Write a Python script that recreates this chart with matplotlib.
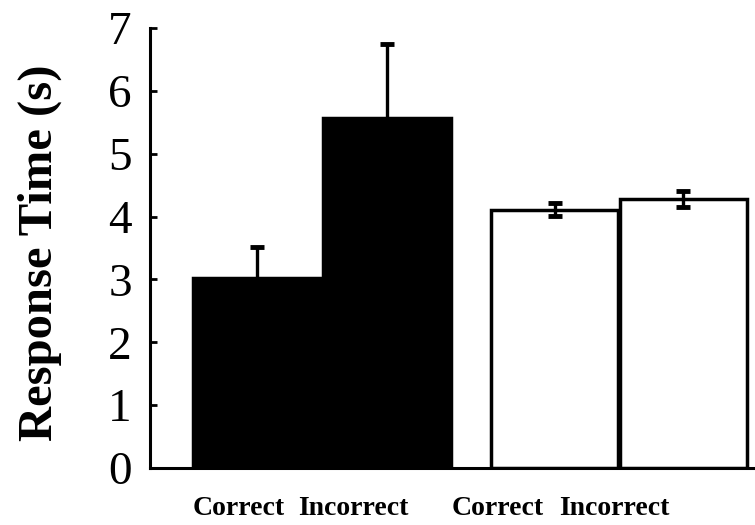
import matplotlib
matplotlib.use('Agg')
import numpy as np
import matplotlib.pyplot as plt

# data
conditions = ['Correct', 'Incorrect', 'Correct', 'Incorrect']
means = [3.03, 5.57, 4.11, 4.28]
errors = [0.48, 1.18, 0.10, 0.12]
fills = ['black', 'black', 'white', 'white']
yticks = [0, 1, 2, 3, 4, 5, 6, 7]

# layout
bar_x = np.array([0.0, 1.0, 2.29, 3.28])
label_x = np.array([-0.14, 0.74, 1.85, 2.75])

plt.rcParams['font.family'] = ['Liberation Serif', 'DejaVu Serif']

fig = plt.figure(figsize=(7.55, 5.25), dpi=100)
ax = fig.add_axes([150 / 755, 57 / 525, 605 / 755, 440 / 525])

ax.bar(bar_x, means, width=0.98, color=fills, edgecolor='black',
       linewidth=2.5, zorder=2)
ax.errorbar(bar_x, means, yerr=errors, fmt='none', ecolor='black',
            elinewidth=2.4, capsize=5, capthick=3.5, zorder=3)

ax.set_xlim(-0.82, 3.83)
ax.set_ylim(0, 7)
ax.set_yticks(yticks)
ax.set_yticklabels([str(t) for t in yticks], fontsize=34)
ax.set_xticks(label_x)
ax.set_xticklabels(conditions, fontsize=20, fontweight='bold')
ax.tick_params(axis='x', length=0, pad=20)
ax.tick_params(axis='y', direction='in', length=5, width=2, pad=13)

for side in ['top', 'right']:
    ax.spines[side].set_visible(False)
for side in ['left', 'bottom']:
    ax.spines[side].set_linewidth(2.2)

ax.set_ylabel('Response Time (s)', fontsize=35, fontweight='bold')
ax.yaxis.set_label_coords(-0.145, 0.49)

fig.savefig('out.png', dpi=100)
